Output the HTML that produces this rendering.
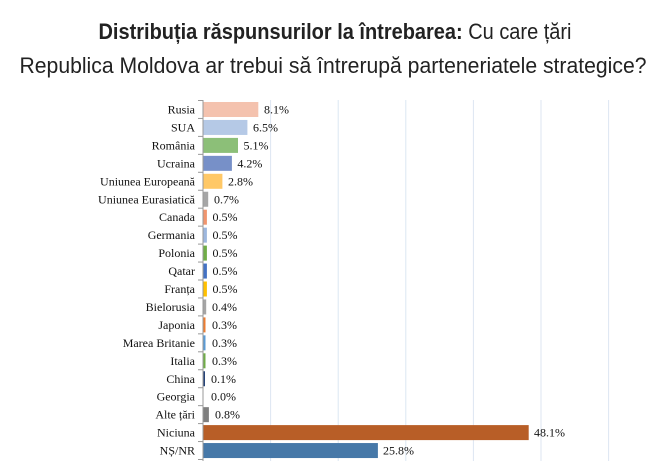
<!DOCTYPE html>
<html><head><meta charset="utf-8"><style>body{margin:0;background:#fff}</style></head><body>
<svg width="671" height="471" xmlns="http://www.w3.org/2000/svg" font-family="Liberation Serif, serif">
<text x="335" y="39" text-anchor="middle" font-family="Liberation Sans, sans-serif" font-size="22" fill="#222" textLength="473" lengthAdjust="spacingAndGlyphs"><tspan font-weight="bold">Distribuția răspunsurilor la întrebarea:</tspan> Cu care țări</text>
<text x="333" y="73" text-anchor="middle" font-family="Liberation Sans, sans-serif" font-size="22" fill="#222" textLength="627" lengthAdjust="spacingAndGlyphs">Republica Moldova ar trebui să întrerupă parteneriatele strategice?</text>
<g stroke="#dce6f2" stroke-width="1">
<line x1="270.6" y1="100" x2="270.6" y2="461"/><line x1="338.2" y1="100" x2="338.2" y2="461"/><line x1="405.8" y1="100" x2="405.8" y2="461"/><line x1="473.4" y1="100" x2="473.4" y2="461"/><line x1="541" y1="100" x2="541" y2="461"/><line x1="608.6" y1="100" x2="608.6" y2="461"/>
</g>
<g>
<rect x="203.5" y="102" width="54.8" height="15" fill="#F4C2AE"/>
<rect x="203.5" y="119.95" width="43.9" height="15" fill="#B5C9E6"/>
<rect x="203.5" y="137.9" width="34.5" height="15" fill="#8CBF78"/>
<rect x="203.5" y="155.85" width="28.4" height="15" fill="#7790C8"/>
<rect x="203.5" y="173.8" width="18.9" height="15" fill="#FFC866"/>
<rect x="203.5" y="191.75" width="4.7" height="15" fill="#A6A6A6"/>
<rect x="203.5" y="209.7" width="3.4" height="15" fill="#F0956E"/>
<rect x="203.5" y="227.65" width="3.4" height="15" fill="#9DB7DE"/>
<rect x="203.5" y="245.6" width="3.4" height="15" fill="#70AD47"/>
<rect x="203.5" y="263.55" width="3.4" height="15" fill="#4472C4"/>
<rect x="203.5" y="281.5" width="3.4" height="15" fill="#FFC000"/>
<rect x="203.5" y="299.45" width="2.7" height="15" fill="#A5A5A5"/>
<rect x="203.5" y="317.4" width="2" height="15" fill="#ED7D31"/>
<rect x="203.5" y="335.35" width="2" height="15" fill="#5B9BD5"/>
<rect x="203.5" y="353.3" width="2" height="15" fill="#70AD47"/>
<rect x="203.5" y="371.25" width="1.5" height="15" fill="#264478"/>
<rect x="203.5" y="407.15" width="5.4" height="15" fill="#7F7F7F"/>
<rect x="203.5" y="425.1" width="325.2" height="15" fill="#B85E27"/>
<rect x="203.5" y="443.05" width="174.4" height="15" fill="#4678A8"/>
</g>
<line x1="203" y1="100" x2="203" y2="461" stroke="#999"/>
<g stroke="#999">
<line x1="198" y1="100.5" x2="203" y2="100.5"/><line x1="198" y1="118.45" x2="203" y2="118.45"/><line x1="198" y1="136.4" x2="203" y2="136.4"/><line x1="198" y1="154.35" x2="203" y2="154.35"/><line x1="198" y1="172.3" x2="203" y2="172.3"/><line x1="198" y1="190.25" x2="203" y2="190.25"/><line x1="198" y1="208.2" x2="203" y2="208.2"/><line x1="198" y1="226.15" x2="203" y2="226.15"/><line x1="198" y1="244.1" x2="203" y2="244.1"/><line x1="198" y1="262.05" x2="203" y2="262.05"/><line x1="198" y1="280" x2="203" y2="280"/><line x1="198" y1="297.95" x2="203" y2="297.95"/><line x1="198" y1="315.9" x2="203" y2="315.9"/><line x1="198" y1="333.85" x2="203" y2="333.85"/><line x1="198" y1="351.8" x2="203" y2="351.8"/><line x1="198" y1="369.75" x2="203" y2="369.75"/><line x1="198" y1="387.7" x2="203" y2="387.7"/><line x1="198" y1="405.65" x2="203" y2="405.65"/><line x1="198" y1="423.6" x2="203" y2="423.6"/><line x1="198" y1="441.55" x2="203" y2="441.55"/><line x1="198" y1="459.5" x2="203" y2="459.5"/>
</g>
<g font-size="12" fill="#111" text-anchor="end">
<text x="195" y="113.5">Rusia</text>
<text x="195" y="131.45">SUA</text>
<text x="195" y="149.4">România</text>
<text x="195" y="167.35">Ucraina</text>
<text x="195" y="185.3">Uniunea Europeană</text>
<text x="195" y="203.25">Uniunea Eurasiatică</text>
<text x="195" y="221.2">Canada</text>
<text x="195" y="239.15">Germania</text>
<text x="195" y="257.1">Polonia</text>
<text x="195" y="275.05">Qatar</text>
<text x="195" y="293">Franța</text>
<text x="195" y="310.95">Bielorusia</text>
<text x="195" y="328.9">Japonia</text>
<text x="195" y="346.85">Marea Britanie</text>
<text x="195" y="364.8">Italia</text>
<text x="195" y="382.75">China</text>
<text x="195" y="400.7">Georgia</text>
<text x="195" y="418.65">Alte țări</text>
<text x="195" y="436.6">Niciuna</text>
<text x="195" y="454.55">NȘ/NR</text>
</g>
<g font-size="12" fill="#111">
<text x="264" y="113.5">8.1%</text>
<text x="253" y="131.45">6.5%</text>
<text x="243.5" y="149.4">5.1%</text>
<text x="237.4" y="167.35">4.2%</text>
<text x="228" y="185.3">2.8%</text>
<text x="214" y="203.25">0.7%</text>
<text x="212.5" y="221.2">0.5%</text>
<text x="212.5" y="239.15">0.5%</text>
<text x="212.5" y="257.1">0.5%</text>
<text x="212.5" y="275.05">0.5%</text>
<text x="212.5" y="293">0.5%</text>
<text x="212" y="310.95">0.4%</text>
<text x="212" y="328.9">0.3%</text>
<text x="212" y="346.85">0.3%</text>
<text x="212" y="364.8">0.3%</text>
<text x="211" y="382.75">0.1%</text>
<text x="211" y="400.7">0.0%</text>
<text x="215" y="418.65">0.8%</text>
<text x="534" y="436.6">48.1%</text>
<text x="383" y="454.55">25.8%</text>
</g>
</svg>
</body></html>
